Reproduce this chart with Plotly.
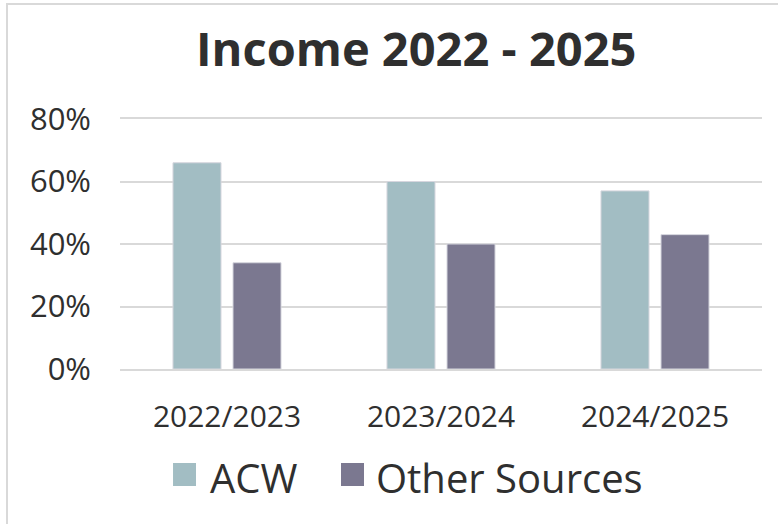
import plotly.graph_objects as go

categories = ["2022/2023", "2023/2024", "2024/2025"]
acw = [66, 60, 57]
other = [34, 40, 43]
series_names = ["ACW", "Other Sources"]
colors = ["#a2bdc3", "#7b7890"]
y_ticks = [0, 20, 40, 60, 80]
y_tick_labels = ["0%", "20%", "40%", "60%", "80%"]

font_family = "Open Sans"
text_color = "#2f2f2f"
grid_color = "#d9d9d9"

fig = go.Figure()
for name, vals, col in zip(series_names, [acw, other], colors):
    fig.add_trace(go.Bar(
        x=categories, y=vals, name=name,
        marker=dict(color=col, line=dict(color="#d6d6de", width=1)),
        showlegend=False,
    ))

# manual legend (large square swatches like the reference)
legend_swatch_x = [(0.0826, 0.1184), (0.3442, 0.3801)]
legend_text_x = [0.1371, 0.3956]
shapes = [dict(type="rect", xref="paper", yref="paper",
               x0=-0.176, x1=1.2, y0=-1.0, y1=1.46,
               line=dict(color=grid_color, width=2), layer="below")]
annotations = []
for name, col, (sx0, sx1), tx in zip(series_names, colors, legend_swatch_x, legend_text_x):
    shapes.append(dict(type="rect", xref="paper", yref="paper",
                       x0=sx0, x1=sx1, y0=-0.468, y1=-0.376,
                       fillcolor=col, line=dict(width=0)))
    annotations.append(dict(text=name, xref="paper", yref="paper", x=tx, y=-0.432,
                            xanchor="left", yanchor="middle", showarrow=False,
                            font=dict(size=40, color=text_color, family=font_family)))

fig.update_layout(
    width=778, height=524,
    margin=dict(l=120, r=16, t=119, b=155),
    paper_bgcolor="white", plot_bgcolor="white",
    barmode="group", bargap=0.439, bargroupgap=0.2,
    font=dict(family=font_family, color=text_color),
    showlegend=False,
    title=dict(text="<b>Income 2022 - 2025</b>", xref="container", x=0.535, xanchor="center",
               y=0.905, yanchor="middle",
               font=dict(size=47, family=font_family, color=text_color)),
    xaxis=dict(showgrid=False, zeroline=False,
               showline=True, mirror=True, linecolor=grid_color, linewidth=2,
               ticks="", tickfont=dict(size=30, color=text_color), ticklabelstandoff=20),
    yaxis=dict(range=[0, 80], tickvals=y_ticks, ticktext=y_tick_labels,
               showgrid=True, gridcolor=grid_color, gridwidth=2,
               zeroline=False, showline=False,
               tickfont=dict(size=31, color=text_color), ticklabelstandoff=28),
    shapes=shapes,
    annotations=annotations,
)

fig.write_html("out.html", config={"displayModeBar": False},
               post_script="document.body.style.margin='0';")
